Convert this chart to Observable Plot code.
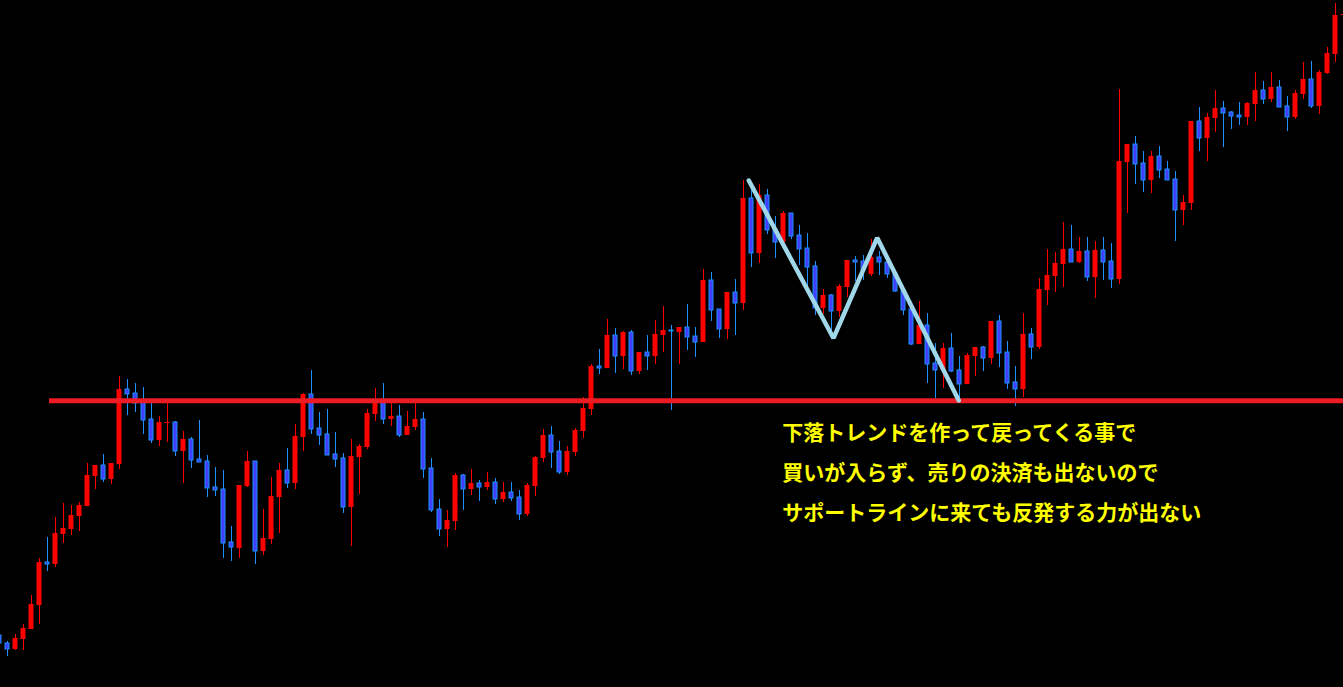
<!DOCTYPE html>
<html><head><meta charset="utf-8">
<script src="https://cdn.jsdelivr.net/npm/d3@7"></script>
<script src="https://cdn.jsdelivr.net/npm/@observablehq/plot@0.6"></script>
<style>html,body{margin:0;padding:0;background:#000;overflow:hidden}#chart svg{display:block}</style>
</head><body><div id="chart"></div>
<script>
// Price levels (chart units, larger = lower on screen)
const open = [635,643,649,639,629,605,562,564,534,529,516,506,476,465,479,464,389,393,402,419,440,423,422,451,439,459,461,487,489,542,548,486,461,551,539,497,470,483,437,394,428,434,454,458,507,457,447,414,402,419,416,435,427,419,468,509,529,521,475,489,483,487,482,499,492,497,514,486,458,435,451,472,452,431,409,366,368,335,356,332,371,352,356,335,330,332,327,336,342,280,309,329,292,303,198,253,195,229,242,213,235,248,266,308,295,311,287,260,261,274,257,262,273,290,309,344,325,363,370,348,370,384,356,347,358,321,352,382,389,334,347,290,276,264,249,262,251,277,250,261,279,162,144,163,180,156,169,179,210,203,121,138,118,108,112,115,117,104,90,99,87,106,117,94,79,106,73,54,15];
const high = [632,641,634,624,595,558,537,517,503,505,502,463,465,454,463,376,379,383,387,402,416,402,421,431,437,420,455,467,470,526,485,451,461,509,477,463,448,424,393,370,412,409,432,453,439,444,409,388,383,400,405,411,400,412,458,499,510,473,474,469,480,472,478,482,482,490,483,456,429,426,441,446,428,397,364,349,319,328,331,330,352,335,320,306,325,327,304,327,269,272,309,292,279,180,190,184,189,216,211,213,225,233,261,289,294,284,260,256,255,239,251,262,270,287,305,301,313,343,343,333,356,353,347,346,321,315,341,366,313,328,278,249,252,222,225,237,237,241,237,243,89,144,136,151,151,146,161,171,195,121,107,113,90,101,111,102,102,72,81,72,80,96,90,62,61,70,47,3,14];
const low = [646,656,650,650,629,624,571,567,543,535,531,506,489,482,484,469,415,412,434,443,446,442,456,483,468,462,497,496,558,561,558,487,564,555,544,533,488,489,451,434,445,455,467,513,546,494,449,421,424,426,437,435,430,478,512,536,547,530,510,495,501,490,504,502,501,520,516,496,462,468,474,475,456,438,415,374,368,373,369,375,374,370,364,352,410,364,350,357,342,321,338,339,335,310,267,263,234,258,242,239,265,287,315,314,332,317,297,281,280,276,275,278,292,315,345,344,383,398,388,372,402,384,376,371,364,367,389,406,397,359,349,305,292,287,262,263,281,298,280,288,284,213,184,192,193,178,180,241,225,210,151,161,132,147,129,125,125,121,104,102,107,131,119,99,108,114,74,62,16];
const close = [643,649,638,628,604,562,564,533,528,515,505,475,465,479,463,389,394,403,420,440,422,422,451,439,460,462,488,490,543,547,485,461,551,538,496,470,483,436,394,429,435,455,459,507,456,446,413,399,419,416,435,426,419,469,510,529,520,475,489,483,487,482,499,492,498,514,485,457,435,452,472,451,430,408,366,368,335,356,332,371,352,356,334,330,331,327,337,342,280,310,329,292,303,198,253,195,230,242,213,236,249,267,308,295,311,286,260,262,270,257,262,274,291,310,344,325,364,370,348,371,384,355,347,358,321,353,383,389,334,347,289,275,263,249,262,251,277,250,262,279,161,144,164,180,156,170,180,210,202,121,138,117,108,113,116,117,103,90,99,87,107,117,93,79,106,72,53,15,14];

const supportLevel = 400.3;
const supportFrom = 6.25;          // candle index where the support line starts
const zigzagIndex = [93.66, 104.25, 109.71, 119.91];
const zigzagLevel = [180, 337.7, 237.3, 400];
const noteLines = ["下落トレンドを作って戻ってくる事で", "買いが入らず、売りの決済も出ないので", "サポートラインに来ても反発する力が出ない"];
const noteIndex = 97.85;
const noteLevels = [432.5, 472.5, 513];

const W = 1343, H = 687, STEP = 8;
const candles = open.map((o, i) => ({i, o, h: high[i], l: low[i], c: close[i], up: close[i] <= o}));
const ups = candles.filter(d => d.up), downs = candles.filter(d => !d.up);
const zig = zigzagIndex.map((x, j) => ({x, y: zigzagLevel[j]}));
const notes = noteLines.map((t, j) => ({t, x: noteIndex, y: noteLevels[j]}));

const RED = "#ff0000", BLUE_FILL = "#4040ff", BLUE_LINE = "#1e90ff";
const chart = Plot.plot({
  width: W, height: H, margin: 0,
  style: {background: "#000", overflow: "hidden"},
  x: {domain: [1 / STEP, 1 / STEP + W / STEP], axis: null},
  y: {domain: [H, 0], axis: null},
  marks: [
    Plot.ruleX(ups, {x: "i", y1: "h", y2: "l", stroke: RED, strokeWidth: 1}),
    Plot.ruleX(downs, {x: "i", y1: "h", y2: "l", stroke: BLUE_LINE, strokeWidth: 1}),
    Plot.rect(ups, {x1: d => d.i - 2.5 / STEP, x2: d => d.i + 2.5 / STEP, y1: "o", y2: "c", fill: RED}),
    Plot.rect(downs, {x1: d => d.i - 2 / STEP, x2: d => d.i + 2 / STEP, y1: "o", y2: "c", fill: BLUE_FILL, stroke: BLUE_LINE, strokeWidth: 1}),
    Plot.ruleY([{y: supportLevel, x1: supportFrom, x2: 170}], {y: "y", x1: "x1", x2: "x2", stroke: "#ed1c24", strokeWidth: 5}),
    Plot.line(zig, {x: "x", y: "y", stroke: "#a0d8ea", strokeWidth: 4.5, strokeLinejoin: "miter"}),
    Plot.text(notes, {x: "x", y: "y", text: "t", textAnchor: "start", lineAnchor: "middle", fill: "#ffff00",
      fontSize: 21, fontWeight: "bold", fontFamily: "'Noto Sans CJK JP', sans-serif"})
  ]
});
document.getElementById("chart").appendChild(chart);
</script>
</body></html>
